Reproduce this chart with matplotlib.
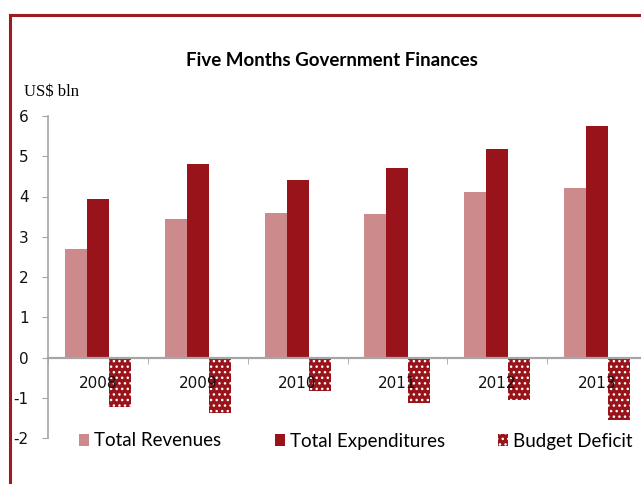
import numpy as np
import matplotlib.pyplot as plt
from matplotlib.lines import Line2D
from matplotlib.patches import Patch

# five-month totals, US$ bln
years = ["2008", "2009", "2010", "2011", "2012", "2013"]
revenues = [2.70, 3.43, 3.58, 3.57, 4.10, 4.20]
expenditures = [3.93, 4.81, 4.40, 4.70, 5.17, 5.76]
deficit = [-1.23, -1.37, -0.83, -1.13, -1.06, -1.56]

c_rev = "#CD8A8C"
c_exp = "#98141A"
c_frame = "#9B1B1F"
c_axis = "#A6A6A6"

plt.rcParams["hatch.linewidth"] = 1.0

fig = plt.figure(figsize=(6.41, 4.84), dpi=100)
fig.patch.set_facecolor("white")

# outer frame: top and left rules only
fig.add_artist(Line2D([9.5/641, 1.0], [1-15/484, 1-15/484], color=c_frame, lw=2.2, transform=fig.transFigure))
fig.add_artist(Line2D([9.5/641, 9.5/641], [0.0, 1-15/484], color=c_frame, lw=2.2, transform=fig.transFigure))

ax = fig.add_axes([48/641, 1-438/484, 599/641, (438-116)/484])

x = np.arange(len(years))
w = 0.22
ax.bar(x - w, revenues, w, color=c_rev, zorder=1)
ax.bar(x, expenditures, w, color=c_exp, zorder=1)
ax.bar(x + w, deficit, w, color=c_exp, edgecolor="white", hatch="...", linewidth=0, zorder=1)

ax.set_xlim(-0.5, len(years) - 0.5)
ax.set_ylim(-2, 6)
ax.set_yticks(range(-2, 7))
ax.set_yticklabels([str(v) for v in range(-2, 7)])

for s in ["top", "right"]:
    ax.spines[s].set_visible(False)
ax.spines["left"].set_color(c_axis)
ax.spines["left"].set_linewidth(1.2)
ax.spines["bottom"].set_position(("data", 0))
ax.spines["bottom"].set_color(c_axis)
ax.spines["bottom"].set_linewidth(1.6)

ax.set_xticks(x)
ax.set_xticklabels(years)
ax.set_xticks(np.arange(-0.5, len(years)), minor=True)
ax.tick_params(axis="x", which="major", length=0, pad=13, labelsize=11, labelcolor="#111111")
ax.tick_params(axis="x", which="minor", length=4, color=c_axis, direction="out")
ax.tick_params(axis="y", length=4, color=c_axis, pad=10, labelsize=11, labelcolor="#111111")
for lab in ax.get_xticklabels():
    lab.set_zorder(5)

fig.text(332/641, 1-61/484, "Five Months Government Finances", ha="center", va="center",
         fontsize=13.5, fontweight="bold", family="Lato")
fig.text(24/641, 1-92/484, "US$ bln", ha="left", va="center", fontsize=12, family="Liberation Serif")

handles = [Patch(facecolor=c_rev, label="Total Revenues"),
           Patch(facecolor=c_exp, label="Total Expenditures"),
           Patch(facecolor=c_exp, edgecolor="white", hatch="...", linewidth=0, label="Budget Deficit")]
leg = fig.legend(handles=handles, loc="center left", bbox_to_anchor=(79/641, 1-441/484), ncol=3,
                 frameon=False, borderpad=0, borderaxespad=0, handlelength=0.55, handleheight=0.55,
                 handletextpad=0.25, columnspacing=2.85, prop={"family": "Lato", "size": 13.5})

fig.savefig("out.png", dpi=100)
